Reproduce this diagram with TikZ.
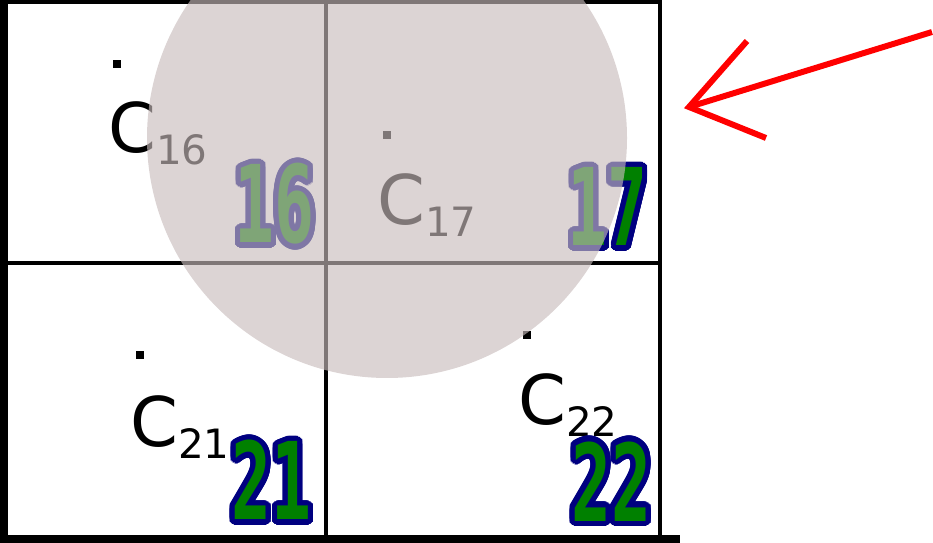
\documentclass[tikz,border=0pt]{standalone}
\usepackage{fontspec}
\usepackage{xcolor}
\usepackage{contour}
\usepackage{tikz}
\setmainfont{DejaVu Sans}
\newfontfamily\numfont[FakeStretch=0.62]{DejaVu Sans Mono}
\definecolor{numgreen}{RGB}{0,128,0}
\definecolor{numblue}{RGB}{0,0,128}
\definecolor{lens}{RGB}{200,187,187}
\contourlength{3pt}
\contournumber{32}

\begin{document}
\begin{tikzpicture}[x=0.02cm,y=-0.02cm,
     cdot/.style={fill=black,inner sep=0pt,minimum size=4pt},
     clabel/.style={anchor=base west,inner sep=0pt,font=\fontsize{39}{39}\selectfont},
     bignum/.style={anchor=base east,inner sep=0pt,font=\numfont\bfseries\fontsize{61}{61}\selectfont},
     arrowline/.style={draw=red,line width=3.4pt,line join=miter}
     ]
   \useasboundingbox (0,0) rectangle (933,543);

   % cell borders
   \draw[line width=2.3pt] (326,0) -- (326,537);
   \draw[line width=2.3pt] (0,263) -- (660,263);
   \draw[line width=2.3pt] (0,2) -- (660,2);
   \draw[line width=2.3pt] (660,0) -- (660,537);
   \draw[line width=4.5pt] (4,0) -- (4,543);
   \draw[line width=4.5pt] (0,539) -- (680,539);

   % centre marks and their labels
   \foreach \n/\dx/\dy/\cx/\cy in {16/117/64/108/153,
                                   17/387/135/377/225,
                                   21/140/355/130/447,
                                   22/527/335/518/425}
   {
     \node[cdot] (dot\n) at (\dx,\dy) {};
     \node[clabel] (lab\n) at (\cx,\cy)
        {C\raisebox{-6.8pt}{\fontsize{23}{23}\selectfont\n}};
   }

   % cell numbers
   \foreach \n/\x/\y in {16/315/243, 17/648/246, 21/312/520, 22/652/521}
   {
     \node[bignum] (num\n) at (\x,\y) {\contour{numblue}{\textcolor{numgreen}{\n}}};
   }

   % the lens lies over all of it
   \fill[lens,fill opacity=0.64] (387,138) circle[radius=240];

   \coordinate (tip) at (689,107);
   \coordinate (tail) at (932,32);
   \draw[arrowline] (747,41) -- (tip) -- (766,138);
   \draw[arrowline] (tip) -- (tail);
\end{tikzpicture}
\end{document}
